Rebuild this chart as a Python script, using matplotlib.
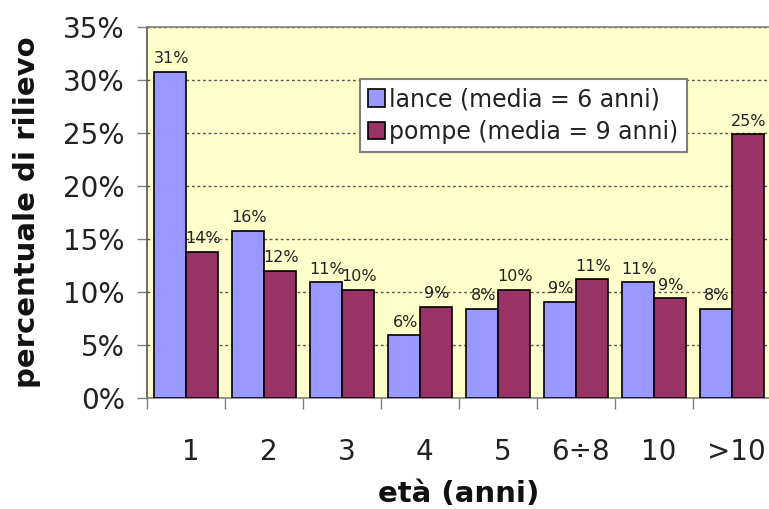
import numpy as np
import matplotlib
matplotlib.use("Agg")
import matplotlib.pyplot as plt
from matplotlib.transforms import ScaledTranslation

# Age classes and share of findings per class (%)
categories = ["1", "2", "3", "4", "5", "6÷8", "10", ">10"]
lance = [30.8, 15.8, 10.9, 5.9, 8.4, 9.1, 10.9, 8.4]
pompe = [13.8, 12.0, 10.2, 8.6, 10.2, 11.2, 9.4, 24.9]
series_labels = ["lance (media = 6 anni)", "pompe (media = 9 anni)"]
yticks = [0, 5, 10, 15, 20, 25, 30, 35]

c_lance = "#9999FF"
c_pompe = "#993366"

plt.rcParams["font.family"] = "DejaVu Sans"

fig = plt.figure(figsize=(7.69, 5.09), dpi=100)
ax = fig.add_axes([147 / 769, 1 - 398 / 509, 1 - 147 / 769 + 0.002, (398 - 27) / 509])
ax.set_facecolor("#FFFFCC")

x = np.arange(len(categories))
w = 0.41
b1 = ax.bar(x - w / 2, lance, w, color=c_lance, edgecolor="black", linewidth=1.2,
            label=series_labels[0], zorder=3)
b2 = ax.bar(x + w / 2, pompe, w, color=c_pompe, edgecolor="black", linewidth=1.2,
            label=series_labels[1], zorder=3)

for bars, vals in ((b1, lance), (b2, pompe)):
    for rect, v in zip(bars, vals):
        ax.annotate(f"{v:.0f}%", (rect.get_x() + rect.get_width() / 2, v),
                    xytext=(1, 4), textcoords="offset points",
                    ha="center", va="bottom", fontsize=11.5, color="#222222", zorder=4)

ax.set_xlim(-0.5, len(categories) - 0.5)
ax.set_ylim(0, 35)
ax.set_yticks(yticks)
ax.set_yticklabels([f"{t}%" for t in yticks], fontsize=20, color="#222222")
ax.yaxis.grid(True, color="#555555", linestyle=(0, (2, 2)), linewidth=1.0, zorder=1)
ax.tick_params(axis="y", length=7, width=1, color="#808080", pad=9)

# category labels at the centres, tick marks on the class boundaries
ax.set_xticks(x)
ax.set_xticklabels(categories, fontsize=20, color="#222222")
ax.set_xticks(np.arange(len(categories) + 1) - 0.5, minor=True)
ax.tick_params(axis="x", which="major", length=0, pad=29)
ax.tick_params(axis="x", which="minor", length=8, width=1, color="#808080")
shift = ScaledTranslation(5 / 100, 0, fig.dpi_scale_trans)
for lab in ax.get_xticklabels():
    lab.set_transform(lab.get_transform() + shift)

for side in ("top", "right", "bottom"):
    ax.spines[side].set_color("#808080")
    ax.spines[side].set_linewidth(1.2)
ax.spines["left"].set_color("#555555")
ax.spines["left"].set_linewidth(1.2)

ax.set_ylabel("percentuale di rilievo", fontsize=21, fontweight="bold", color="#111111")
ax.yaxis.set_label_coords(-(147 - 27) / 622, 0.5)
ax.set_xlabel("età (anni)", fontsize=21, fontweight="bold", color="#111111")
ax.xaxis.set_label_coords(0.5, -(494 - 398) / 371)
ax.xaxis.label.set_va("center")
ax.yaxis.label.set_va("center")

leg = ax.legend(loc="upper left", bbox_to_anchor=((359 - 147) / 622, (398 - 79) / 371),
                borderaxespad=0, fontsize=17, frameon=True, fancybox=False,
                handlelength=0.75, handleheight=0.75, handletextpad=0.15,
                borderpad=0.35, labelspacing=0.35)
leg.get_frame().set_edgecolor("#808080")
leg.get_frame().set_linewidth(1.5)
leg.get_frame().set_facecolor("white")
leg.get_frame().set_alpha(1)
for t in leg.get_texts():
    t.set_color("#222222")

fig.savefig("out.png", dpi=100, facecolor="white")
